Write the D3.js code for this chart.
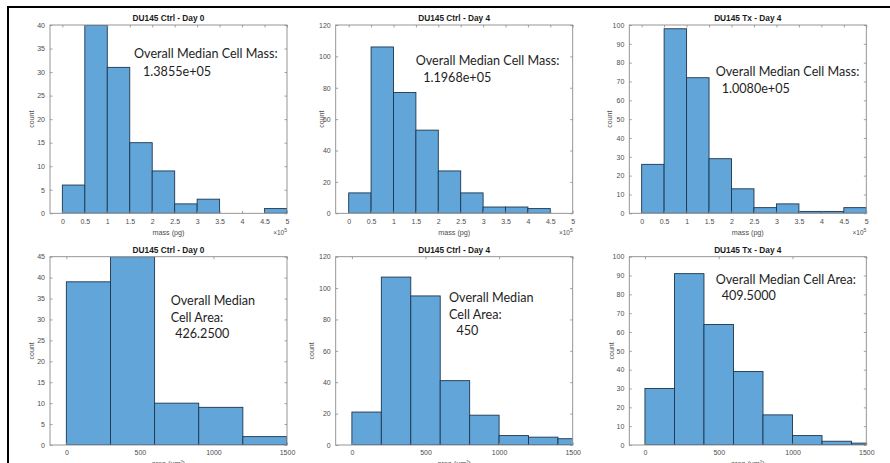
<!DOCTYPE html>
<html>
<head>
<meta charset="utf-8">
<script src="https://cdn.jsdelivr.net/npm/d3@7"></script>
<style>
  body { margin: 0; background: #fff; }
  svg { display: block; }
</style>
</head>
<body>
<svg id="chart" width="890" height="463"></svg>
<script>
// ---- data -------------------------------------------------------------
const panelTitles = [
  "DU145 Ctrl - Day 0", "DU145 Ctrl - Day 4", "DU145 Tx - Day 4",
  "DU145 Ctrl - Day 0", "DU145 Ctrl - Day 4", "DU145 Tx - Day 4"
];

// mass bins, in units of 1e5 pg
const massEdges = [0, 0.5, 1, 1.5, 2, 2.5, 3, 3.5, 4, 4.5, 5];
const massCountsCtrlDay0 = [6, 40, 31, 15, 9, 2, 3, 0, 0, 1];
const massCountsCtrlDay4 = [13, 106, 77, 53, 27, 13, 4, 4, 3];
const massCountsTxDay4   = [26, 98, 72, 29, 13, 3, 5, 1, 1, 3];

// area bins, um^2
const areaEdgesCtrlDay0 = [0, 300, 600, 900, 1200, 1500];
const areaEdges         = [0, 200, 400, 600, 800, 1000, 1200, 1400, 1600];
const areaCountsCtrlDay0 = [39, 45, 10, 9, 2];
const areaCountsCtrlDay4 = [21, 107, 95, 41, 19, 6, 5, 4];
const areaCountsTxDay4   = [30, 91, 64, 39, 16, 5, 2, 1];

// axis ticks
const massTicks = [0, 0.5, 1, 1.5, 2, 2.5, 3, 3.5, 4, 4.5, 5];
const areaTicks = [0, 500, 1000, 1500];
const countTicks40  = [0, 5, 10, 15, 20, 25, 30, 35, 40];
const countTicks45  = [0, 5, 10, 15, 20, 25, 30, 35, 40, 45];
const countTicks120 = [0, 20, 40, 60, 80, 100, 120];
const countTicks100 = [0, 10, 20, 30, 40, 50, 60, 70, 80, 90, 100];

// median annotations
const medianNotes = [
  ["Overall Median Cell Mass:", "1.3855e+05"],
  ["Overall Median Cell Mass:", "1.1968e+05"],
  ["Overall Median Cell Mass:", "1.0080e+05"],
  ["Overall Median", "Cell Area:", "426.2500"],
  ["Overall Median", "Cell Area:", "450"],
  ["Overall Median Cell Area:", "409.5000"]
];

// ---- layout -----------------------------------------------------------
const W = 890, H = 463;
const colLeft = [50, 335.7, 629.3];
const axW = 237;
const rowBox = [{ top: 25, bottom: 213.3 }, { top: 256.7, bottom: 445 }];

const panels = [
  { col: 0, row: 0, edges: massEdges, counts: massCountsCtrlDay0, xdom: [-0.275, 5], xticks: massTicks, yticks: countTicks40, ymax: 40,
    yLabelX: 32, note: { x: 134, y: 58, dy: 18, indent: [0, 9] } },
  { col: 1, row: 0, edges: massEdges, counts: massCountsCtrlDay4, xdom: [-0.29, 5], xticks: massTicks, yticks: countTicks120, ymax: 120,
    yLabelX: 322, note: { x: 415.7, y: 65, dy: 17, indent: [0, 7.5] } },
  { col: 2, row: 0, edges: massEdges, counts: massCountsTxDay4, xdom: [-0.275, 5], xticks: massTicks, yticks: countTicks100, ymax: 100,
    yLabelX: 610, note: { x: 715.7, y: 76, dy: 17, indent: [0, 6] } },
  { col: 0, row: 1, edges: areaEdgesCtrlDay0, counts: areaCountsCtrlDay0, xdom: [-111, 1500], xticks: areaTicks, yticks: countTicks45, ymax: 45,
    yLabelX: 32, note: { x: 170.7, y: 305, dy: 16.5, indent: [0, 0, 4.5] } },
  { col: 1, row: 1, edges: areaEdges, counts: areaCountsCtrlDay4, xdom: [-110, 1500], xticks: areaTicks, yticks: countTicks120, ymax: 120,
    yLabelX: 312, note: { x: 449, y: 302.3, dy: 16.5, indent: [0, 0, 7.5] } },
  { col: 2, row: 1, edges: areaEdges, counts: areaCountsTxDay4, xdom: [-106, 1500], xticks: areaTicks, yticks: countTicks100, ymax: 100,
    yLabelX: 612, note: { x: 715.7, y: 284, dy: 16, indent: [0, 6] } }
];

const svg = d3.select("#chart");
svg.append("rect").attr("width", W).attr("height", H).attr("fill", "#fff");

const tickFont = "Liberation Sans, Arial, sans-serif";
const tickColor = "#4d4d4d";
const axisColor = "#8a8a8a";
const barFill = "#62a6d9";
const barEdge = "#1d3650";

panels.forEach((p, i) => {
  const left = colLeft[p.col], right = left + axW;
  const { top, bottom } = rowBox[p.row];

  const x = d3.scaleLinear().domain(p.xdom).range([left, right]);
  const y = d3.scaleLinear().domain([0, p.ymax]).range([bottom, top]);

  const g = svg.append("g");

  const clipId = "clip" + i;
  g.append("clipPath").attr("id", clipId)
    .append("rect").attr("x", left).attr("y", top).attr("width", axW).attr("height", bottom - top);

  // histogram bars
  const bins = p.counts.map((c, k) => ({ x0: p.edges[k], x1: p.edges[k + 1], n: c }));
  g.append("g").attr("clip-path", `url(#${clipId})`)
    .selectAll("rect").data(bins.filter(b => b.n > 0)).join("rect")
    .attr("x", d => x(d.x0))
    .attr("y", d => y(d.n))
    .attr("width", d => x(d.x1) - x(d.x0))
    .attr("height", d => y(0) - y(d.n))
    .attr("fill", barFill)
    .attr("stroke", barEdge)
    .attr("stroke-width", 0.9);

  // axes with inward ticks on all four sides
  const styleAxis = sel => {
    sel.select(".domain").remove();
    sel.selectAll(".tick line").attr("stroke", axisColor).attr("stroke-width", 0.8);
    sel.selectAll(".tick text").attr("fill", tickColor)
      .style("font-family", tickFont).style("font-size", "7px");
  };

  g.append("g").attr("transform", `translate(0,${bottom})`)
    .call(d3.axisBottom(x).tickValues(p.xticks).tickSize(-2.5).tickPadding(5.5).tickFormat(d3.format("~g")))
    .call(styleAxis);
  g.append("g").attr("transform", `translate(0,${top})`)
    .call(d3.axisTop(x).tickValues(p.xticks).tickSize(-2.5).tickFormat(""))
    .call(styleAxis);
  g.append("g").attr("transform", `translate(${left},0)`)
    .call(d3.axisLeft(y).tickValues(p.yticks).tickSize(-2.5).tickPadding(5))
    .call(styleAxis);
  g.append("g").attr("transform", `translate(${right},0)`)
    .call(d3.axisRight(y).tickValues(p.yticks).tickSize(-2.5).tickFormat(""))
    .call(styleAxis);

  // box
  g.append("rect").attr("x", left).attr("y", top).attr("width", axW).attr("height", bottom - top)
    .attr("fill", "none").attr("stroke", axisColor).attr("stroke-width", 0.9);

  // title
  g.append("text").attr("x", (left + right) / 2).attr("y", top - 4)
    .attr("text-anchor", "middle")
    .style("font-family", tickFont).style("font-size", "8.3px").style("font-weight", "bold")
    .attr("fill", "#1a1a1a").text(panelTitles[i]);

  // y label
  g.append("text")
    .attr("transform", `translate(${p.yLabelX},${(top + bottom) / 2}) rotate(-90)`)
    .attr("text-anchor", "middle").attr("dy", "0.35em")
    .style("font-family", tickFont).style("font-size", "7px")
    .attr("fill", tickColor).text("count");

  // x label
  if (p.row === 0) {
    g.append("text").attr("x", (left + right) / 2).attr("y", bottom + 21.5)
      .attr("text-anchor", "middle")
      .style("font-family", tickFont).style("font-size", "7.2px")
      .attr("fill", tickColor).text("mass (pg)");
    const ex = g.append("text").attr("x", right).attr("y", bottom + 21.5)
      .attr("text-anchor", "end")
      .style("font-family", tickFont).style("font-size", "6.5px")
      .attr("fill", tickColor);
    ex.append("tspan").text("\u00d710");
    ex.append("tspan").attr("dy", -3).style("font-size", "5px").text("5");
  } else {
    g.append("text").attr("x", (left + right) / 2).attr("y", bottom + 21)
      .attr("text-anchor", "middle")
      .style("font-family", tickFont).style("font-size", "7.2px")
      .attr("fill", tickColor).text("area (um\u00b2)");
  }

  // median annotation
  const note = g.append("text")
    .style("font-family", "Lato, 'Open Sans', sans-serif").style("font-size", "12.6px")
    .attr("fill", "#1e1e1e");
  medianNotes[i].forEach((line, k) => {
    note.append("tspan").attr("x", p.note.x + p.note.indent[k]).attr("y", p.note.y + k * p.note.dy).text(line);
  });
});

// outer frame (top and left edges)
svg.append("line").attr("x1", 7.5).attr("y1", 7).attr("x2", W).attr("y2", 7)
  .attr("stroke", "#000").attr("stroke-width", 2);
svg.append("line").attr("x1", 8).attr("y1", 6).attr("x2", 8).attr("y2", H)
  .attr("stroke", "#000").attr("stroke-width", 2);
</script>
</body>
</html>
